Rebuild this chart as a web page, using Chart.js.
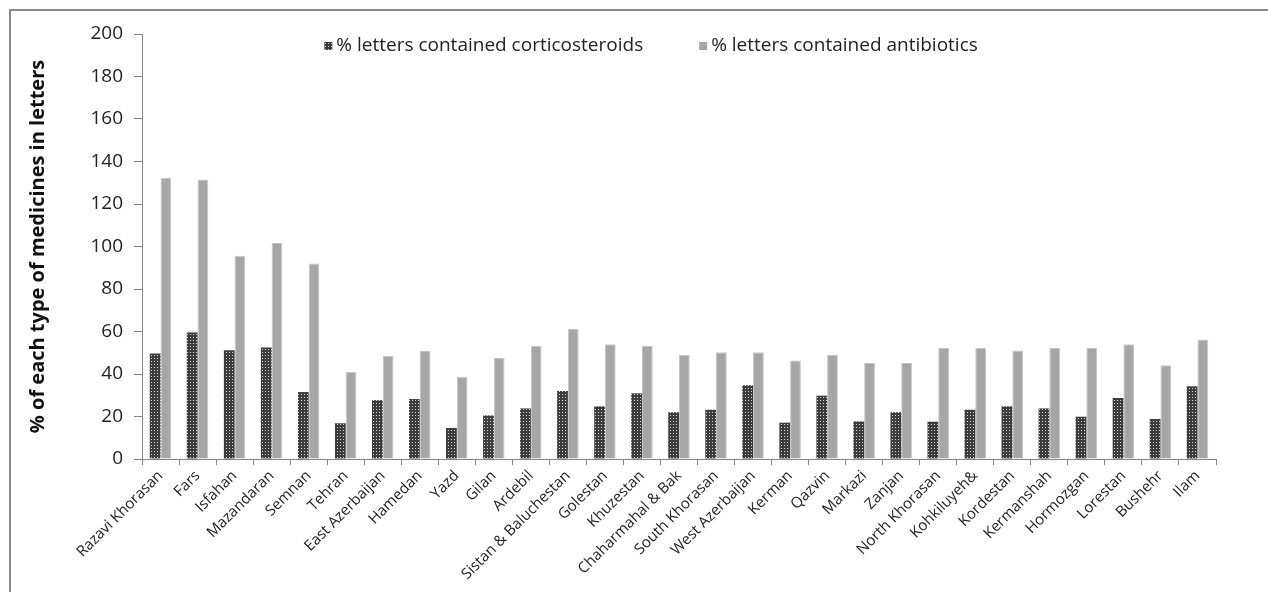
<!DOCTYPE html>
<html>
<head>
<meta charset="utf-8">
<script src="https://cdn.jsdelivr.net/npm/chart.js@4/dist/chart.umd.min.js"></script>
<style>
  html, body { margin: 0; padding: 0; background: #fff; }
  #wrap { position: relative; width: 1268px; height: 592px; overflow: hidden; }
  #frame { position: absolute; left: 9px; top: 9px; width: 1400px; height: 700px;
           border-left: 2px solid #8a8a8a; border-top: 2px solid #8a8a8a; }
  canvas { position: absolute; left: 0; top: 0; }
</style>
</head>
<body>
<div id="wrap">
  <div id="frame"></div>
  <canvas id="c" width="1268" height="592"></canvas>
</div>
<script>
// Provinces
const provinces = [
  'Razavi Khorasan', 'Fars', 'Isfahan', 'Mazandaran', 'Semnan', 'Tehran',
  'East Azerbaijan', 'Hamedan', 'Yazd', 'Gilan', 'Ardebil', 'Sistan & Baluchestan',
  'Golestan', 'Khuzestan', 'Chaharmahal & Bak', 'South Khorasan', 'West Azerbaijan',
  'Kerman', 'Qazvin', 'Markazi', 'Zanjan', 'North Khorasan', 'Kohkiluyeh&',
  'Kordestan', 'Kermanshah', 'Hormozgan', 'Lorestan', 'Bushehr', 'Ilam'
];

// % of letters containing corticosteroids
const corticosteroids = [
  49.7, 59.5, 51.2, 52.5, 31.5, 16.8, 27.7, 28.2, 14.6, 20.5, 23.8, 32.0,
  24.8, 30.9, 22.0, 23.2, 34.7, 17.1, 29.8, 17.7, 22.0, 17.6, 23.2,
  24.8, 23.8, 19.9, 28.7, 18.8, 34.2
];

// % of letters containing antibiotics
const antibiotics = [
  132.4, 131.5, 95.7, 101.7, 92.0, 40.9, 48.6, 50.8, 38.7, 47.5, 53.3, 61.2,
  54.0, 53.3, 48.9, 50.2, 50.2, 46.3, 48.9, 45.2, 45.2, 52.2, 52.2,
  51.1, 52.2, 52.2, 54.0, 44.1, 56.2
];

const seriesLabels = ['% letters contained corticosteroids', '% letters contained antibiotics'];
const yTitle = '% of each type of medicines in letters';

const FONT = "'Open Sans', 'DejaVu Sans', sans-serif";
const AXIS = '#878787';

// Dotted fill used for the corticosteroid bars
function dotPattern() {
  const t = document.createElement('canvas');
  t.width = 3; t.height = 3;
  const g = t.getContext('2d');
  g.fillStyle = '#3c3c3c';
  g.fillRect(0, 0, 3, 3);
  g.fillStyle = '#d6d6d6';
  g.fillRect(1, 1, 1, 1);
  return g.createPattern(t, 'repeat');
}
const ctx = document.getElementById('c').getContext('2d');
const pattern = dotPattern();

// Legend drawn inside the plot area, near the top
const inlineLegend = {
  id: 'inlineLegend',
  afterDraw(chart) {
    const c = chart.ctx;
    const area = chart.chartArea;
    c.save();
    c.font = "19px " + FONT;
    c.textBaseline = 'middle';
    const box = 8, gapBox = 4, gapItem = 56;
    const items = chart.data.datasets.map(d => ({ label: d.label, fill: d.backgroundColor, w: c.measureText(d.label).width }));
    const total = items.reduce((s, it) => s + box + gapBox + it.w, 0) + gapItem * (items.length - 1);
    let x = area.left + (area.right - area.left) * 0.474 - total / 2;
    const y = area.top + 12;
    items.forEach(it => {
      c.fillStyle = it.fill;
      c.fillRect(x, y - box / 2, box, box);
      x += box + gapBox;
      c.fillStyle = '#222';
      c.fillText(it.label, x, y);
      x += it.w + gapItem;
    });
    c.restore();
  }
};

new Chart(ctx, {
  type: 'bar',
  data: {
    labels: provinces,
    datasets: [
      { label: seriesLabels[0], data: corticosteroids, backgroundColor: pattern, borderWidth: 0 },
      { label: seriesLabels[1], data: antibiotics, backgroundColor: '#a6a6a6', borderColor: '#c4c4c4', borderWidth: 1 }
    ]
  },
  options: {
    responsive: false,
    animation: false,
    devicePixelRatio: 1,
    layout: { padding: { left: 0, right: 52, top: 34, bottom: 0 } },
    datasets: { bar: { categoryPercentage: 0.58, barPercentage: 1.0 } },
    plugins: { legend: { display: false }, tooltip: { enabled: false } },
    scales: {
      x: {
        offset: true,
        grid: { offset: true, drawOnChartArea: false, drawTicks: true, tickLength: 6, color: AXIS },
        border: { color: AXIS, width: 1 },
        ticks: { color: '#222', font: { family: FONT, size: 15 }, minRotation: 45, maxRotation: 45, autoSkip: false, padding: 2 },
        afterFit(s) { s.height = 133; }
      },
      y: {
        min: 0, max: 200,
        grid: { drawOnChartArea: false, drawTicks: true, tickLength: 8, color: AXIS },
        border: { color: AXIS, width: 1 },
        ticks: { stepSize: 20, color: '#222', font: { family: FONT, size: 19 }, padding: 11 },
        title: { display: true, text: yTitle, color: '#111', font: { family: FONT, size: 20, weight: 'bold' }, padding: { top: 26, bottom: 0 } },
        afterFit(s) { s.width = 142; }
      }
    }
  },
  plugins: [inlineLegend]
});
</script>
</body>
</html>
